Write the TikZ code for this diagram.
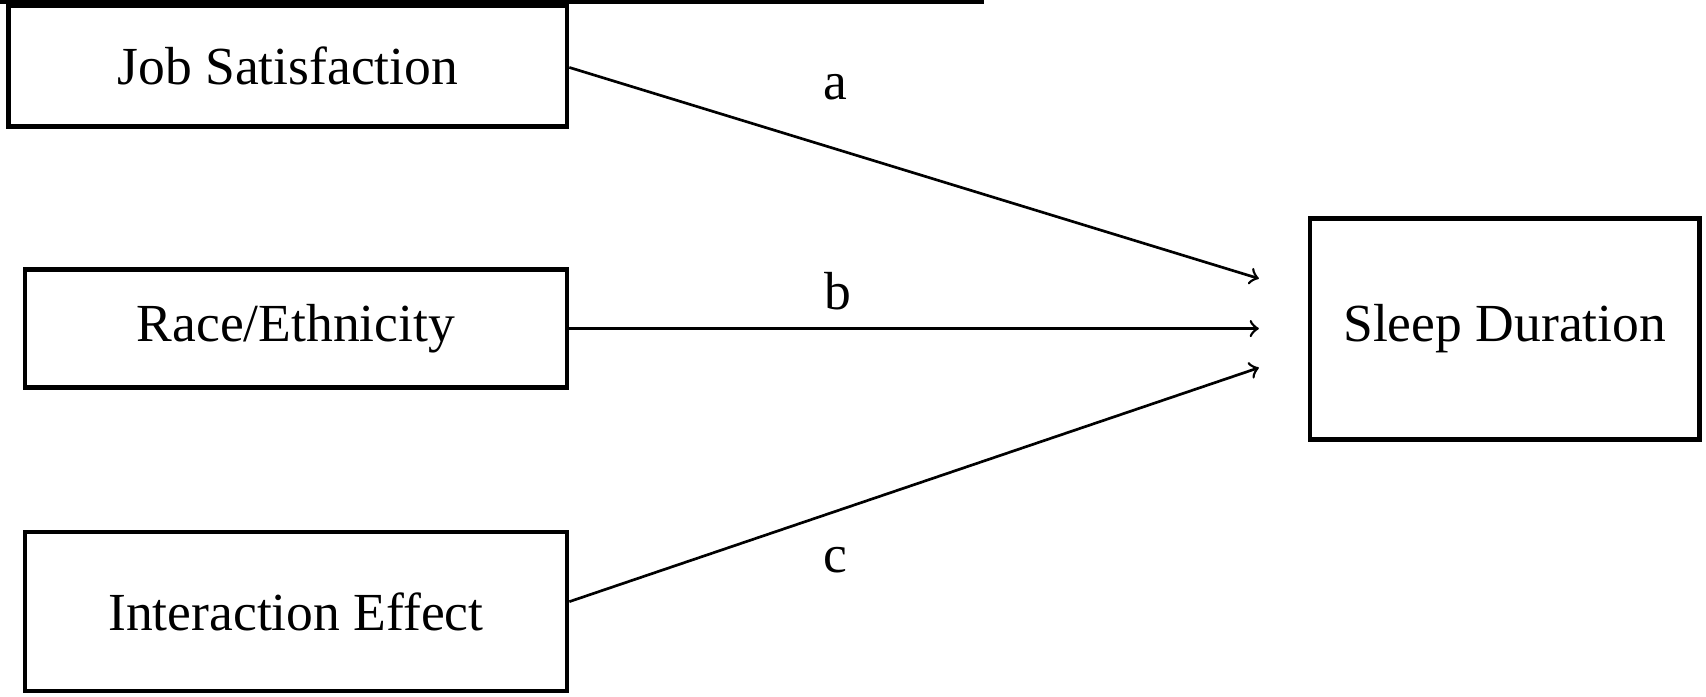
\documentclass[tikz,border=0pt]{standalone}
\usepackage{fontspec}
\setmainfont{Liberation Serif}
\begin{document}
\begin{tikzpicture}[x=0.01cm,y=-0.01cm,
	var/.style={draw, line width=1.2pt, inner sep=0pt, font=\fontsize{14}{16}\selectfont},
	path/.style={->, >=to, line width=0.7pt},
	lbl/.style={font=\fontsize{14}{16}\selectfont}
		]
	\useasboundingbox (0,0) rectangle (1568,640);
	
	\node[var, minimum width=513\pgflinewidth/1.2, text width=0pt] at (0,0) {};
	\node[var, minimum width=5.13cm, minimum height=1.11cm] (job) at (264.5,60.5) {Job Satisfaction};
	\node[var, minimum width=4.98cm, minimum height=1.08cm] (race) at (272,302) {Race/Ethnicity};
	\node[var, minimum width=4.98cm, minimum height=1.46cm] (inter) at (272,562) {Interaction Effect};
	\node[var, minimum width=3.58cm, minimum height=2.03cm] (sleep) at (1383,302.5) {Sleep Duration};
	
	\coordinate (ta) at (1157,256);
	\coordinate (tb) at (1157,302);
	\coordinate (tc) at (1157,338);
	\draw[path] (job.east |- 0,62) -- (ta);
	\draw[path] (race.east) -- (tb);
	\draw[path] (inter.east |- 0,553) -- (tc);
	
	\node[lbl] (la) at (768,80) {a};
	\node[lbl] (lb) at (770,268) {b};
	\node[lbl] (lc) at (768,515) {c};
\end{tikzpicture}
\end{document}
